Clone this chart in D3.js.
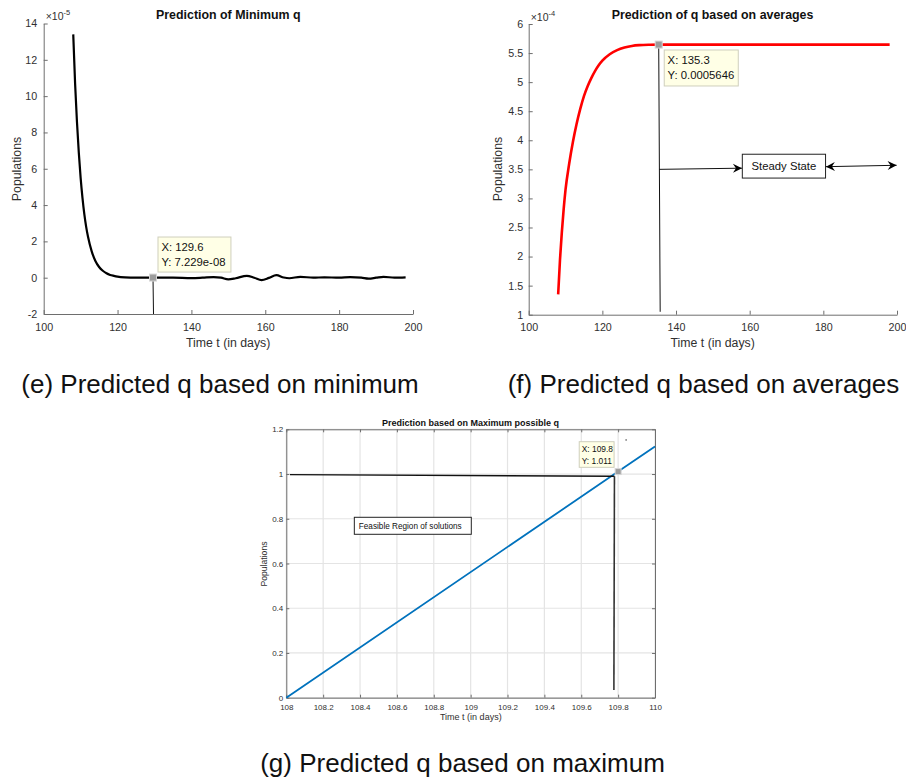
<!DOCTYPE html>
<html>
<head>
<meta charset="utf-8">
<script src="https://cdn.jsdelivr.net/npm/d3@7"></script>
<style>
  body { margin: 0; background: #fff; }
  svg { display: block; font-family: "Liberation Sans", Arial, Helvetica, sans-serif; }
</style>
</head>
<body>
<div id="chart"></div>
<script>
// (e) minimum q, values in units of 1e-5
const minTime   = [108, 108.5, 109, 109.5, 110, 110.5, 111, 111.5, 112, 113, 114, 115, 116, 117, 118, 119, 120, 122, 125, 130, 135, 140, 143, 146, 148, 150, 152, 155, 157, 159, 161, 163, 165, 166.5, 169.5, 173, 176, 180, 183, 186, 188, 190, 192, 195, 198];
const minValues = [13.4, 10.7, 8.6, 6.9, 5.5, 4.4, 3.5, 2.8, 2.25, 1.45, 0.92, 0.59, 0.38, 0.24, 0.15, 0.1, 0.06, 0.02, 0.0, 0.0, 0.0, -0.02, 0.0, 0.03, 0.0, -0.09, -0.03, 0.1, 0.0, -0.13, -0.01, 0.14, 0.01, -0.03, 0.05, 0.0, 0.02, 0.0, 0.03, 0.0, -0.05, 0.0, 0.05, 0.0, 0.02];

// (f) q based on averages, values in units of 1e-4
const avgTime   = [108, 108.5, 109, 109.5, 110, 111, 112, 113, 114, 115, 116, 117, 118, 119, 120, 122, 124, 126, 128, 130, 133, 135.3, 150, 175, 198];
const avgValues = [1.35, 1.95, 2.42, 2.82, 3.15, 3.6, 3.97, 4.28, 4.54, 4.76, 4.93, 5.07, 5.19, 5.29, 5.37, 5.48, 5.55, 5.595, 5.623, 5.637, 5.644, 5.646, 5.646, 5.646, 5.646];

// (g) maximum possible q
const maxTime   = [108, 109.8, 110];
const maxValues = [0, 1.011, 1.123];

// ticks
const minXTicks = [100, 120, 140, 160, 180, 200];
const minYTicks = [-2, 0, 2, 4, 6, 8, 10, 12, 14];
const avgXTicks = [100, 120, 140, 160, 180, 200];
const avgYTicks = [1, 1.5, 2, 2.5, 3, 3.5, 4, 4.5, 5, 5.5, 6];
const maxXTicks = [108, 108.2, 108.4, 108.6, 108.8, 109, 109.2, 109.4, 109.6, 109.8, 110];
const maxYTicks = [0, 0.2, 0.4, 0.6, 0.8, 1, 1.2];

// data tips
const minTip = {x: 129.6, y: 0.0072, label: ["X: 129.6", "Y: 7.229e-08"]};
const avgTip = {x: 135.3, y: 5.646, label: ["X: 135.3", "Y: 0.0005646"]};
const maxTip = {x: 109.8, y: 1.011, label: ["X: 109.8", "Y: 1.011"]};

const captions = ["(e) Predicted q based on minimum", "(f) Predicted q based on averages", "(g) Predicted q based on maximum"];

const axisCol = "#6e6e6e", textCol = "#303030";

const svg = d3.select("#chart").append("svg")
  .attr("width", 906).attr("height", 780);
svg.append("rect").attr("width", 906).attr("height", 780).attr("fill", "#fff");

const defs = svg.append("defs");
defs.append("marker")
  .attr("id", "vback")
  .attr("viewBox", "-10 -5 11 10")
  .attr("refX", 0).attr("refY", 0)
  .attr("markerUnits", "userSpaceOnUse")
  .attr("markerWidth", 11).attr("markerHeight", 10)
  .attr("orient", "auto-start-reverse")
  .append("path")
  .attr("d", "M0,0 L-9,-4.5 L-6,0 L-9,4.5 Z")
  .attr("fill", "#000");

function drawAxes(x, y, o) {
  const g = svg.append("g");
  const [x0, x1] = x.range(), [y0, y1] = y.range();
  if (o.grid) {
    g.append("g").selectAll("line").data(o.xTicks).join("line")
      .attr("x1", d => x(d)).attr("x2", d => x(d))
      .attr("y1", y0).attr("y2", y1)
      .attr("stroke", "#e4e4e4").attr("stroke-width", 1.2);
    g.append("g").selectAll("line").data(o.yTicks).join("line")
      .attr("y1", d => y(d)).attr("y2", d => y(d))
      .attr("x1", x0).attr("x2", x1)
      .attr("stroke", "#e4e4e4").attr("stroke-width", 1.2);
  }
  const xa = g.append("g").attr("transform", `translate(0,${y0})`)
    .call(d3.axisBottom(x).tickValues(o.xTicks).tickSizeInner(-o.tick).tickSizeOuter(0)
      .tickPadding(o.xPad).tickFormat(o.xFmt || (d => d)));
  const ya = g.append("g").attr("transform", `translate(${x0},0)`)
    .call(d3.axisLeft(y).tickValues(o.yTicks).tickSizeInner(-o.tick).tickSizeOuter(0)
      .tickPadding(o.yPad).tickFormat(o.yFmt || (d => d)));
  const axes = [xa, ya];
  if (o.box) {
    axes.push(g.append("g").attr("transform", `translate(0,${y1})`)
      .call(d3.axisTop(x).tickValues(o.xTicks).tickSizeInner(-o.tick).tickSizeOuter(0).tickFormat("")));
    axes.push(g.append("g").attr("transform", `translate(${x1},0)`)
      .call(d3.axisRight(y).tickValues(o.yTicks).tickSizeInner(-o.tick).tickSizeOuter(0).tickFormat("")));
  }
  axes.forEach(a => {
    a.select(".domain").attr("stroke", axisCol).attr("stroke-width", 1);
    a.selectAll(".tick line").attr("stroke", axisCol);
    a.selectAll("text").attr("fill", textCol).style("font-size", o.fs + "px")
      .style("font-family", "'Liberation Sans', Arial, sans-serif");
  });
  return g;
}

function drawTip(x, y, tip, box, fs, lineH) {
  const g = svg.append("g");
  g.append("rect")
    .attr("x", x(box[0])).attr("y", y(box[3]))
    .attr("width", x(box[1]) - x(box[0])).attr("height", y(box[2]) - y(box[3]))
    .attr("fill", "#ffffe6").attr("stroke", "#cfcfbd").attr("stroke-width", 1);
  tip.label.forEach((t, i) => {
    g.append("text")
      .attr("x", x(box[0]) + fs * 0.3)
      .attr("y", y(box[3]) + lineH * (i + 1) - fs * 0.1)
      .attr("font-size", fs).attr("fill", "#111").text(t);
  });
  return g;
}

function marker(x, y, tip, s) {
  svg.append("rect")
    .attr("x", x(tip.x) - s / 2).attr("y", y(tip.y) - s / 2)
    .attr("width", s).attr("height", s)
    .attr("fill", "#9c9c9c").attr("stroke", "#d6d6d6").attr("stroke-width", 1);
}

function exponent(x, y, exp) {
  const t = svg.append("text").attr("x", x.range()[0] + 2).attr("y", y.range()[1] - 3.5)
    .attr("fill", textCol).attr("font-size", 10.5);
  t.append("tspan").text("\u00d710");
  t.append("tspan").attr("dy", -5).attr("font-size", 7.5).text(exp);
}

// ---------- (e) ----------
const ex = d3.scaleLinear().domain([100, 200]).range([43.7, 413]);
const ey = d3.scaleLinear().domain([-2, 14]).range([314, 23.5]);
drawAxes(ex, ey, {xTicks: minXTicks, yTicks: minYTicks, tick: 4, xPad: 9, yPad: 6.5, fs: 10.7});
exponent(ex, ey, "-5");
svg.append("text").attr("x", 228.3).attr("y", 19).attr("text-anchor", "middle")
  .attr("font-weight", "bold").attr("font-size", 12.4).attr("fill", "#111").text("Prediction of Minimum q");
svg.append("text").attr("x", 228.2).attr("y", 347).attr("text-anchor", "middle")
  .attr("font-size", 12.3).attr("fill", textCol).text("Time t (in days)");
svg.append("text").attr("transform", "translate(20.5,169) rotate(-90)").attr("text-anchor", "middle")
  .attr("font-size", 12.3).attr("fill", textCol).text("Populations");
svg.append("path").datum(d3.zip(minTime, minValues))
  .attr("fill", "none").attr("stroke", "#000").attr("stroke-width", 2.2)
  .attr("stroke-linejoin", "round")
  .attr("d", d3.line().x(d => ex(d[0])).y(d => ey(d[1])).curve(d3.curveMonotoneX));
svg.append("line").attr("x1", ex(minTip.x)).attr("x2", ex(minTip.x) + 0.5)
  .attr("y1", ey(minTip.y)).attr("y2", ey(-2)).attr("stroke", "#111").attr("stroke-width", 1);
marker(ex, ey, minTip, 7);
drawTip(ex, ey, minTip, [130.95, 150.7, 0.31, 2.24], 11.3, 15);

// ---------- (f) ----------
const fx = d3.scaleLinear().domain([100, 200]).range([528.7, 897]);
const fy = d3.scaleLinear().domain([1, 6]).range([314.7, 24]);
drawAxes(fx, fy, {xTicks: avgXTicks, yTicks: avgYTicks, tick: 4, xPad: 9, yPad: 5.5, fs: 10.7});
exponent(fx, fy, "-4");
svg.append("text").attr("x", 712.5).attr("y", 19).attr("text-anchor", "middle")
  .attr("font-weight", "bold").attr("font-size", 12.4).attr("fill", "#111").text("Prediction of q based on averages");
svg.append("text").attr("x", 712.7).attr("y", 347).attr("text-anchor", "middle")
  .attr("font-size", 12.3).attr("fill", textCol).text("Time t (in days)");
svg.append("text").attr("transform", "translate(502,169) rotate(-90)").attr("text-anchor", "middle")
  .attr("font-size", 12.3).attr("fill", textCol).text("Populations");
svg.append("path").datum(d3.zip(avgTime, avgValues))
  .attr("fill", "none").attr("stroke", "#ff0000").attr("stroke-width", 2.6)
  .attr("d", d3.line().x(d => fx(d[0])).y(d => fy(d[1])).curve(d3.curveMonotoneX));
svg.append("line").attr("x1", fx(avgTip.x)).attr("x2", fx(135.7))
  .attr("y1", fy(avgTip.y)).attr("y2", fy(1.05)).attr("stroke", "#111").attr("stroke-width", 1);
// steady state annotation
svg.append("line").attr("x1", fx(135.4)).attr("y1", fy(3.5))
  .attr("x2", fx(157.9)).attr("y2", fy(3.52))
  .attr("stroke", "#111").attr("stroke-width", 1).attr("marker-end", "url(#vback)");
svg.append("rect").attr("x", fx(158)).attr("y", fy(3.76))
  .attr("width", fx(180.6) - fx(158)).attr("height", fy(3.35) - fy(3.76))
  .attr("fill", "#fff").attr("stroke", "#222").attr("stroke-width", 1);
svg.append("text").attr("x", (fx(158) + fx(180.6)) / 2).attr("y", 170)
  .attr("text-anchor", "middle").attr("font-size", 11.3).attr("fill", "#111").text("Steady State");
svg.append("line").attr("x1", fx(180.7)).attr("y1", fy(3.546))
  .attr("x2", fx(199.9)).attr("y2", fy(3.57))
  .attr("stroke", "#111").attr("stroke-width", 1)
  .attr("marker-start", "url(#vback)").attr("marker-end", "url(#vback)");
marker(fx, fy, avgTip, 7);
drawTip(fx, fy, avgTip, [136.8, 156.9, 4.934, 5.553], 11.3, 15);

// ---------- (g) ----------
const gx = d3.scaleLinear().domain([108, 110]).range([286.3, 655]);
const gy = d3.scaleLinear().domain([0, 1.2]).range([697.7, 429.3]);
drawAxes(gx, gy, {xTicks: maxXTicks, yTicks: maxYTicks, tick: 3, xPad: 6.5, yPad: 3, fs: 8, grid: true, box: true});
svg.append("text").attr("x", 470.5).attr("y", 426).attr("text-anchor", "middle")
  .attr("font-weight", "bold").attr("font-size", 9).attr("fill", "#111").text("Prediction based on Maximum possible q");
svg.append("text").attr("x", 470.8).attr("y", 720).attr("text-anchor", "middle")
  .attr("font-size", 9).attr("fill", textCol).text("Time t (in days)");
svg.append("text").attr("transform", "translate(266.5,564) rotate(-90)").attr("text-anchor", "middle")
  .attr("font-size", 8.6).attr("fill", textCol).text("Populations");
svg.append("path").datum(d3.zip(maxTime, maxValues))
  .attr("fill", "none").attr("stroke", "#0072bd").attr("stroke-width", 1.8)
  .attr("d", d3.line().x(d => gx(d[0])).y(d => gy(d[1])));
svg.append("line").attr("x1", gx(108.02)).attr("y1", gy(0.997))
  .attr("x2", gx(109.78)).attr("y2", gy(0.99)).attr("stroke", "#111").attr("stroke-width", 1.3);
svg.append("line").attr("x1", gx(109.78)).attr("y1", gy(0.99))
  .attr("x2", gx(109.777)).attr("y2", gy(0.034)).attr("stroke", "#333").attr("stroke-width", 1.6);
svg.append("rect").attr("x", gx(108.369)).attr("y", gy(0.8066))
  .attr("width", gx(109.0035) - gx(108.369)).attr("height", gy(0.7306) - gy(0.8066))
  .attr("fill", "#fff").attr("stroke", "#222").attr("stroke-width", 1);
svg.append("text").attr("x", gx(108.369) + 4.5).attr("y", 529)
  .attr("font-size", 8.2).attr("fill", "#111").text("Feasible Region of solutions");
svg.append("rect").attr("x", gx(109.84)).attr("y", gy(1.155)).attr("width", 1.2).attr("height", 1.2).attr("fill", "#222");
marker(gx, gy, maxTip, 6);
drawTip(gx, gy, maxTip, [109.589, 109.778, 1.03, 1.1446], 8.4, 11.5);

// ---------- captions ----------
const capPos = [[220, 392.5], [703.5, 392.5], [462.5, 771.5]];
captions.forEach((c, i) => {
  svg.append("text").attr("x", capPos[i][0]).attr("y", capPos[i][1])
    .attr("text-anchor", "middle").attr("font-size", 26).attr("fill", "#111").text(c);
});
</script>
</body>
</html>
